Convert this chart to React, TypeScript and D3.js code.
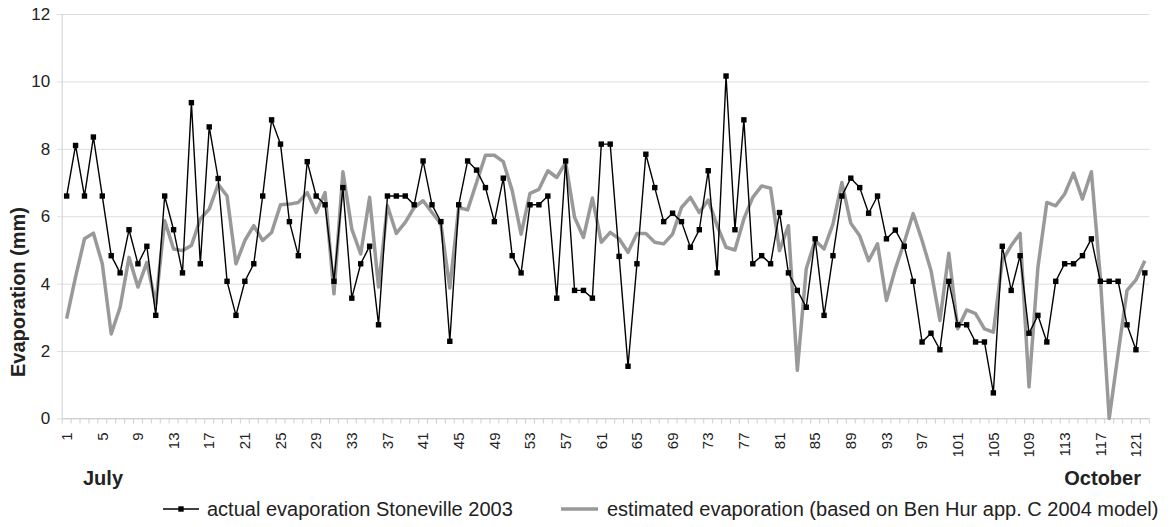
import * as d3 from "d3";
import { useEffect, useRef } from "react";

const WIDTH = 1169;
const HEIGHT = 527;

const COLORS = {
  grid: "#dedede",
  axis: "#cfcfcf",
  text: "#222222",
  actual: "#000000",
  estimated: "#999999",
};

// day numbers 1..122 (July to October)
const days = d3.range(1, 123);
const tickDays = d3.range(1, 123, 4);
const yTicks = [0, 2, 4, 6, 8, 10, 12];

// actual evaporation Stoneville 2003 (mm)
const actual = [
  6.6, 8.1, 6.6, 8.35, 6.6, 4.83, 4.32, 5.6, 4.59, 5.11,
  3.06, 6.6, 5.6, 4.32, 9.37, 4.59, 8.65, 7.12, 4.07, 3.06,
  4.07, 4.59, 6.6, 8.86, 8.14, 5.84, 4.83, 7.62, 6.6, 6.34,
  4.07, 6.85, 3.57, 4.59, 5.11, 2.78, 6.6, 6.6, 6.6, 6.34,
  7.64, 6.34, 5.84, 2.29, 6.34, 7.64, 7.37, 6.85, 5.84, 7.13,
  4.83, 4.32, 6.34, 6.34, 6.6, 3.57, 7.64, 3.8, 3.8, 3.57,
  8.14, 8.14, 4.81, 1.55, 4.59, 7.84, 6.85, 5.84, 6.09, 5.84,
  5.08, 5.6, 7.35, 4.32, 10.16, 5.6, 8.86, 4.59, 4.83, 4.59,
  6.11, 4.32, 3.8, 3.3, 5.33, 3.06, 4.83, 6.6, 7.13, 6.85,
  6.09, 6.6, 5.33, 5.59, 5.11, 4.07, 2.27, 2.53, 2.04, 4.07,
  2.78, 2.78, 2.27, 2.27, 0.76, 5.11, 3.8, 4.83, 2.53, 3.06,
  2.27, 4.07, 4.59, 4.59, 4.83, 5.33, 4.07, 4.07, 4.07, 2.78,
  2.04, 4.32,
];

// estimated evaporation, Ben Hur app. C 2004 model (mm)
const estimated = [
  2.96, 4.2, 5.33, 5.5, 4.59, 2.51, 3.3, 4.78, 3.9, 4.63,
  3.4, 5.87, 5.03, 4.98, 5.13, 5.92, 6.21, 6.95, 6.6, 4.59,
  5.28, 5.72, 5.28, 5.52, 6.34, 6.36, 6.41, 6.7, 6.11, 6.7,
  3.7, 7.32, 5.62, 4.88, 6.56, 3.9, 6.31, 5.49, 5.82, 6.26,
  6.46, 6.11, 5.77, 3.87, 6.26, 6.19, 7.0, 7.81, 7.81, 7.62,
  6.76, 5.47, 6.68, 6.8, 7.35, 7.15, 7.59, 5.97, 5.37, 6.54,
  5.23, 5.52, 5.33, 4.93, 5.49, 5.49, 5.23, 5.18, 5.47, 6.26,
  6.56, 6.11, 6.48, 5.72, 5.08, 5.0, 5.92, 6.56, 6.9, 6.83,
  4.98, 5.72, 1.43, 4.44, 5.28, 5.03, 5.77, 7.0, 5.79, 5.42,
  4.68, 5.18, 3.5, 4.44, 5.23, 6.08, 5.28, 4.39, 2.91, 4.9,
  2.66, 3.22, 3.11, 2.66, 2.56, 4.68, 5.13, 5.49, 0.94, 4.49,
  6.41, 6.31, 6.66, 7.28, 6.51, 7.32, 4.2, 0.0, 1.92, 3.8,
  4.11, 4.68,
];

const EvaporationChart = () => {
  const svgRef = useRef<SVGSVGElement>(null);

  useEffect(() => {
    const svg = d3.select(svgRef.current);
    svg.selectAll("*").remove();

    const left = 62.2;
    const right = 1149.3;
    const top = 14;
    const bottom = 418.5;

    const x = d3
      .scaleBand<number>()
      .domain(days)
      .range([left, right]);
    const cx = (d: number) => (x(d) as number) + x.bandwidth() / 2;

    const y = d3.scaleLinear().domain([0, 12]).range([bottom, top]);

    // horizontal grid lines + y labels
    const yAxis = d3
      .axisLeft(y)
      .tickValues(yTicks)
      .tickSize(-(right - left) - 5)
      .tickPadding(7)
      .tickFormat((d) => String(d));

    const yg = svg
      .append("g")
      .attr("transform", `translate(${left - 5}, 0)`)
      .call(yAxis);
    yg.select(".domain").remove();
    yg.selectAll("line").attr("x1", 0).attr("x2", right - left + 5).style("stroke", COLORS.grid);
    yg.selectAll("text")
      .attr("x", -7)
      .style("font-family", "'Liberation Sans', Arial, sans-serif")
      .style("font-size", "17px")
      .style("fill", COLORS.text);

    // y axis line
    svg
      .append("line")
      .attr("x1", left)
      .attr("x2", left)
      .attr("y1", top)
      .attr("y2", bottom)
      .style("stroke", COLORS.axis);

    // x axis line + small ticks at category boundaries
    svg
      .append("line")
      .attr("x1", left)
      .attr("x2", right)
      .attr("y1", bottom)
      .attr("y2", bottom)
      .style("stroke", COLORS.axis);

    svg
      .append("g")
      .selectAll("line")
      .data(days.concat([123]))
      .enter()
      .append("line")
      .attr("x1", (d) => (d === 123 ? right : (x(d) as number)))
      .attr("x2", (d) => (d === 123 ? right : (x(d) as number)))
      .attr("y1", bottom)
      .attr("y2", bottom + 5)
      .style("stroke", COLORS.axis);

    // rotated day labels
    svg
      .append("g")
      .selectAll("text")
      .data(tickDays)
      .enter()
      .append("text")
      .attr("transform", (d) => `translate(${cx(d)}, ${bottom + 14}) rotate(-90)`)
      .attr("dy", "0.35em")
      .style("text-anchor", "end")
      .style("font-family", "'Liberation Sans', Arial, sans-serif")
      .style("font-size", "15px")
      .style("fill", COLORS.text)
      .text((d) => d);

    // y axis title
    svg
      .append("text")
      .attr("transform", `translate(25, 292) rotate(-90)`)
      .style("text-anchor", "middle")
      .style("font-family", "'Liberation Sans', Arial, sans-serif")
      .style("font-size", "20px")
      .style("font-weight", "700")
      .style("fill", COLORS.text)
      .text("Evaporation (mm)");

    // month labels
    svg
      .append("text")
      .attr("x", 83)
      .attr("y", 485)
      .style("font-family", "'Liberation Sans', Arial, sans-serif")
      .style("font-size", "20px")
      .style("font-weight", "700")
      .style("fill", COLORS.text)
      .text("July");

    svg
      .append("text")
      .attr("x", 1141)
      .attr("y", 485)
      .style("text-anchor", "end")
      .style("font-family", "'Liberation Sans', Arial, sans-serif")
      .style("font-size", "20px")
      .style("font-weight", "700")
      .style("fill", COLORS.text)
      .text("October");

    // estimated series (thick gray line)
    const line = d3
      .line<number>()
      .x((_, i) => cx(days[i]))
      .y((d) => y(d));

    svg
      .append("path")
      .datum(estimated)
      .attr("d", line)
      .style("fill", "none")
      .style("stroke", COLORS.estimated)
      .style("stroke-width", 3.5)
      .style("stroke-linejoin", "round");

    // actual series (thin black line with square markers)
    svg
      .append("path")
      .datum(actual)
      .attr("d", line)
      .style("fill", "none")
      .style("stroke", COLORS.actual)
      .style("stroke-width", 1.4);

    svg
      .append("g")
      .selectAll("rect")
      .data(actual)
      .enter()
      .append("rect")
      .attr("x", (_, i) => cx(days[i]) - 2.7)
      .attr("y", (d) => y(d) - 2.7)
      .attr("width", 5.4)
      .attr("height", 5.4)
      .style("fill", COLORS.actual);

    // legend
    const legendY = 509;
    const legend = svg.append("g");
    legend
      .append("line")
      .attr("x1", 163)
      .attr("x2", 199)
      .attr("y1", legendY)
      .attr("y2", legendY)
      .style("stroke", COLORS.actual)
      .style("stroke-width", 1.4);
    legend
      .append("rect")
      .attr("x", 181 - 2.7)
      .attr("y", legendY - 2.7)
      .attr("width", 5.4)
      .attr("height", 5.4)
      .style("fill", COLORS.actual);
    legend
      .append("text")
      .attr("x", 207)
      .attr("y", legendY + 7)
      .style("font-family", "'Liberation Sans', Arial, sans-serif")
      .style("font-size", "20px")
      .style("fill", COLORS.text)
      .text("actual evaporation Stoneville 2003");

    legend
      .append("line")
      .attr("x1", 561)
      .attr("x2", 598)
      .attr("y1", legendY)
      .attr("y2", legendY)
      .style("stroke", COLORS.estimated)
      .style("stroke-width", 3.5);
    legend
      .append("text")
      .attr("x", 607)
      .attr("y", legendY + 7)
      .style("font-family", "'Liberation Sans', Arial, sans-serif")
      .style("font-size", "20px")
      .style("fill", COLORS.text)
      .text("estimated evaporation (based on Ben Hur app. C 2004 model)");
  }, []);

  return (
    <svg
      ref={svgRef}
      width={WIDTH}
      height={HEIGHT}
      style={{ position: "absolute", left: 0, top: 0, background: "#ffffff" }}
    />
  );
};

export default function App() {
  return <EvaporationChart />;
}
